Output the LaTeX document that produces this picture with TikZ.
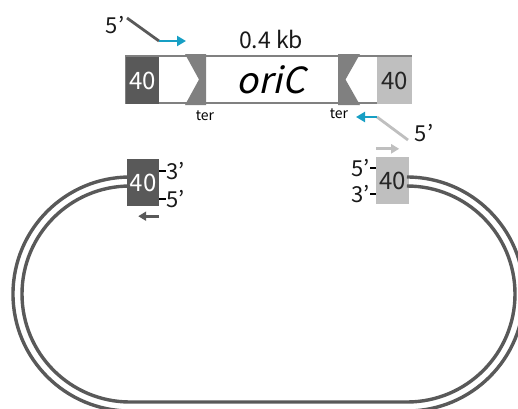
\documentclass[tikz,border=0pt]{standalone}
\usepackage{fontspec}
\setmainfont{Noto Sans CJK JP}
\newfontfamily\orifont[FakeSlant=0.22]{Noto Sans CJK JP}
\usetikzlibrary{arrows.meta}
\definecolor{darkbox}{HTML}{595959}
\definecolor{lightbox}{HTML}{BFBFBF}
\definecolor{tergray}{HTML}{808080}
\definecolor{primerblue}{HTML}{179FC4}
\tikzset{
  box40/.style={minimum width=33pt,minimum height=47pt,inner sep=0pt,font=\fontsize{24}{24}\selectfont},
  darkfill/.style={box40,fill=darkbox,text=white},
  lightfill/.style={box40,fill=lightbox,text=black!85},
  strand/.style={draw=darkbox,line width=3.4pt},
  primer/.style={line width=2.8pt,line cap=butt},
  tipA/.style={-{Triangle[length=9pt,width=10pt]}},
  tipB/.style={line width=3pt,-{Triangle[length=8pt,width=9pt]}},
  lab/.style={inner sep=0pt,font=\fontsize{22}{22}\selectfont,text=black!90},
}
\begin{document}
\begin{tikzpicture}[x=1pt,y=-1pt]
\useasboundingbox (0,0) rectangle (518,408);
\clip (0,0) rectangle (518,408);

\draw[tergray,line width=2.4pt] (126,56) rectangle (411,103);
\node[darkfill,minimum width=33pt] (topL) at (142.5,80.5) {40};
\node[lightfill,minimum width=35pt] (topR) at (394.5,80.5) {40};
\fill[tergray] (185,54) -- (206,54) -- (206,105) -- (185,105) -- (199,79.5) -- cycle;
\fill[tergray] (338,54) -- (360,54) -- (345.5,79.5) -- (360,105) -- (338,105) -- cycle;
\node (ori) at (271,80) {\orifont\fontsize{36}{36}\selectfont oriC};
\node[lab,font=\fontsize{23}{23}\selectfont] (kb) at (271,39) {0.4 kb};
\node[inner sep=0pt,font=\fontsize{14}{14}\selectfont] (terL) at (205,116) {ter};
\node[inner sep=0pt,font=\fontsize{14}{14}\selectfont] (terR) at (339,114) {ter};

\node[lab] (fwd5) at (115,25) {5’};
\coordinate (fwdA) at (127,18);
\coordinate (fwdB) at (159,41);
\coordinate (fwdC) at (186,41);
\draw[primer,darkbox] (fwdA) -- (fwdB);
\draw[primer,primerblue,tipA] (fwdB) -- (fwdC);

\node[lab] (rev5) at (424,133) {5’};
\coordinate (revA) at (408,140);
\coordinate (revB) at (377,117);
\coordinate (revC) at (356,117);
\draw[primer,lightbox] (revA) -- (revB);
\draw[primer,primerblue,tipA] (revB) -- (revC);

\node[darkfill,minimum width=32pt] (lbox) at (143,182.5) {40};
\node[lightfill] (rbox) at (392.5,180.5) {40};

\node[lab,anchor=west] (l3) at (166,171) {3’};
\node[lab,anchor=west] (l5) at (166,199) {5’};
\node[lab,anchor=east] (r5) at (370,168) {5’};
\node[lab,anchor=east] (r3) at (370,194) {3’};
\foreach \n in {l3,l5}
  \draw[line width=1.6pt] (lbox.east |- \n.west) -- (\n.west);
\foreach \n in {r5,r3}
  \draw[line width=1.6pt] (rbox.west |- \n.east) -- (\n.east);

\draw[tipB,lightbox] ([yshift=8pt]rbox.north west) -- ([xshift=-10pt,yshift=8pt]rbox.north east);
\draw[tipB,darkbox] ([yshift=-10pt]lbox.south east) -- ([xshift=-21pt,yshift=-10pt]lbox.south east);

\coordinate (outer) at (0,177);
\coordinate (inner) at (0,186);
\draw[strand] (lbox.west |- outer) -- (130,177) arc (270:90:117) -- (407,411) arc (90:-90:117) -- (rbox.east |- outer);
\draw[strand] (lbox.west |- inner) -- (130,186) arc (270:90:108) -- (407,402) arc (90:-90:108) -- (rbox.east |- inner);
\end{tikzpicture}
\end{document}
